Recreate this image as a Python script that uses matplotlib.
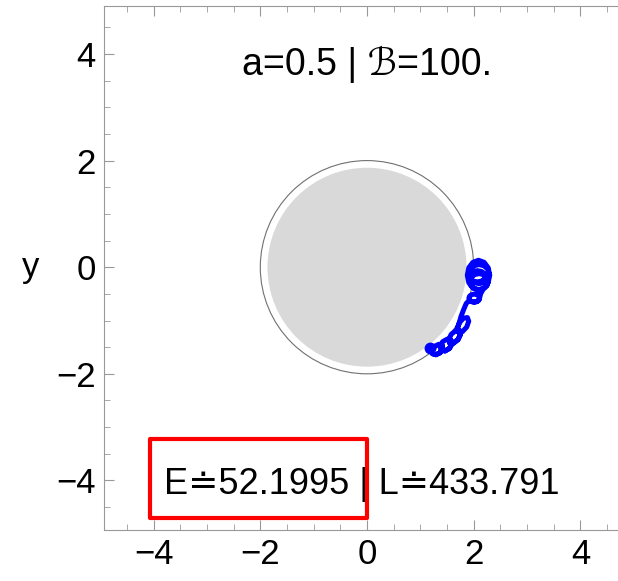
import matplotlib
matplotlib.use("Agg")
import matplotlib.pyplot as plt
from matplotlib.patches import Circle, Rectangle

plt.rcParams['font.family'] = ['Liberation Sans', 'DejaVu Sans']

# spin, field strength, energy, angular momentum
a_spin = 0.5
b_field = 100.
energy = 52.1995
ang_mom = 433.791

r_horizon = 1.866   # gray disk
r_ergo = 2.0        # thin outer circle

# trajectory, in three pieces
# 1) knot of loops near (2.1, -0.15)
blob_x = [2.30, 2.272, 2.195, 2.09, 1.985, 1.908, 1.88, 1.908, 1.985, 2.09, 2.195, 2.272, 2.30,
          2.29, 2.265, 2.195, 2.10, 2.005, 1.935, 1.91, 1.935, 2.005, 2.10, 2.195, 2.265, 2.29,
          2.22, 2.20, 2.145, 2.07, 1.995, 1.94, 1.92, 1.94, 1.995, 2.07, 2.145, 2.20, 2.22,
          2.27, 2.247, 2.185, 2.10, 2.015, 1.953, 1.93, 1.953, 2.015, 2.10, 2.185, 2.247, 2.27,
          2.247, 2.185, 2.13]
blob_y = [-0.15, -0.01, 0.092, 0.13, 0.092, -0.01, -0.15, -0.29, -0.392, -0.43, -0.392, -0.29, -0.15,
          -0.13, -0.04, 0.026, 0.05, 0.026, -0.04, -0.13, -0.22, -0.286, -0.31, -0.286, -0.22, -0.13,
          -0.17, -0.1175, -0.079, -0.065, -0.079, -0.1175, -0.17, -0.2225, -0.261, -0.275, -0.261, -0.2225, -0.17,
          -0.27, -0.195, -0.14, -0.12, -0.14, -0.195, -0.27, -0.345, -0.40, -0.42, -0.40, -0.345, -0.27,
          -0.345, -0.40, -0.50]
# 2) small loop below the knot, then the stroke down
loop_x = [2.11, 2.097, 2.06, 2.01, 1.96, 1.923, 1.91, 1.923, 1.96, 2.01, 2.06, 2.097,
          2.11, 2.097, 2.06, 2.01, 1.96, 1.923, 1.86, 1.81, 1.76]
loop_y = [-0.58, -0.6175, -0.645, -0.655, -0.645, -0.6175, -0.58, -0.5425, -0.515, -0.505, -0.515, -0.5425,
          -0.58, -0.6175, -0.645, -0.655, -0.645, -0.6175, -0.68, -0.80, -0.93]
# 3) chain of elongated loops along the circle
chain_x = [1.731, 1.693, 1.718, 1.790, 1.869, 1.907, 1.882, 1.810, 1.731, 1.693, 1.718,
           1.736, 1.753, 1.706, 1.621, 1.550, 1.533, 1.580, 1.665, 1.736, 1.753, 1.706, 1.621, 1.550,
           1.572, 1.591, 1.545, 1.462, 1.390, 1.371, 1.417, 1.500, 1.572, 1.591, 1.545, 1.462, 1.390,
           1.409, 1.419, 1.370, 1.290, 1.227, 1.217, 1.266, 1.346, 1.409, 1.419, 1.370, 1.290, 1.227,
           1.217, 1.19]
chain_y = [-1.041, -1.150, -1.219, -1.208, -1.123, -1.014, -0.945, -0.956, -1.041, -1.150, -1.219,
           -1.190, -1.259, -1.357, -1.425, -1.424, -1.355, -1.257, -1.189, -1.190, -1.259, -1.357, -1.425, -1.424,
           -1.368, -1.440, -1.524, -1.571, -1.554, -1.482, -1.398, -1.351, -1.368, -1.440, -1.524, -1.571, -1.554,
           -1.466, -1.532, -1.605, -1.642, -1.622, -1.556, -1.483, -1.446, -1.466, -1.532, -1.605, -1.642, -1.622,
           -1.556, -1.515]

traj_x = blob_x + loop_x + chain_x
traj_y = blob_y + loop_y + chain_y

lim = 4.93
major_ticks = [-4, -2, 0, 2, 4]

fig = plt.figure(figsize=(6.18, 5.81), dpi=100)
ax = fig.add_axes([104 / 618, 51 / 581, 526 / 618, 524 / 581])

ax.add_patch(Circle((0, 0), r_horizon, facecolor='#d9d9d9', edgecolor='none', zorder=1))
ax.add_patch(Circle((0, 0), r_ergo, facecolor='none', edgecolor='#707070', lw=0.8, zorder=2))

ax.plot(traj_x, traj_y, color='#0000ff', lw=3.6, solid_joinstyle='round',
        solid_capstyle='round', zorder=3)
ax.plot(traj_x[-1], traj_y[-1], 'o', color='#0000ff', ms=7.5, zorder=3)

ax.text(0, 3.8, f'a={a_spin} | \u212C={b_field:g}.', ha='center', va='center', fontsize=27)
ax.text(-0.1, -4.07, f'E\u2250{energy} | L\u2250{ang_mom}', ha='center', va='center', fontsize=26)
ax.add_patch(Rectangle((-4.06, -4.71), 4.06, 1.48, facecolor='none', edgecolor='#ff0000',
                       lw=3, joinstyle='round', zorder=4))

ax.set_xlim(-lim, lim)
ax.set_ylim(-lim, 4.9)

ax.set_xticks(major_ticks)
ax.set_yticks(major_ticks)
ax.set_xticklabels(['\u22124', '\u22122', '0', '2', '4'])
ax.set_yticklabels(['\u22124', '\u22122', '0', '2', '4'])
ax.set_xticks([t / 2 for t in range(-9, 10)], minor=True)
ax.set_yticks([t / 2 for t in range(-9, 10)], minor=True)
ax.tick_params(which='both', direction='in', top=True, right=True, color='#999999',
               labelsize=25, pad=6)
ax.tick_params(which='major', length=7, width=0.8)
ax.tick_params(which='minor', length=4, width=0.6)
for s in ax.spines.values():
    s.set_color('#999999')
    s.set_linewidth(0.8)

ax.set_ylabel('y', rotation=0, fontsize=25, labelpad=18, va='center')

fig.savefig('out.png', dpi=100)
